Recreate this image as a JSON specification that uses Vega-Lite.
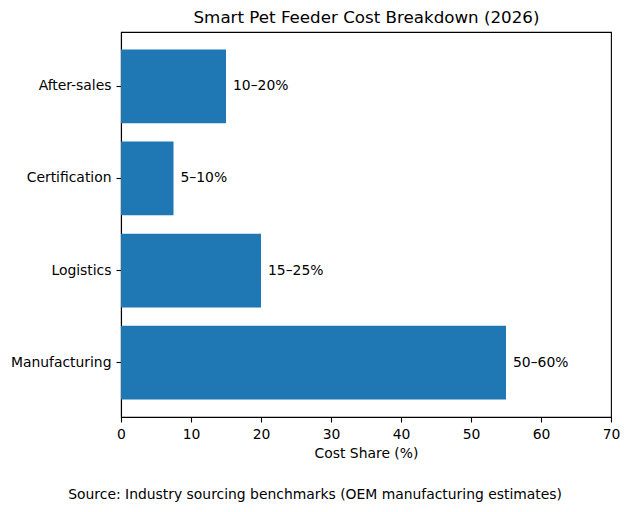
{
  "$schema": "https://vega.github.io/schema/vega-lite/v6.json",
  "width": 490,
  "height": 385,
  "autosize": "none",
  "padding": {"left": 121, "top": 32, "right": 19, "bottom": 95},
  "background": "white",
  "title": {
    "text": "Source: Industry sourcing benchmarks (OEM manufacturing estimates)",
    "orient": "bottom",
    "frame": "bounds",
    "anchor": "middle",
    "font": "DejaVu Sans",
    "fontSize": 13.9,
    "fontWeight": "normal",
    "color": "black",
    "offset": 27
  },
  "data": {
    "values": [
      {"category": "Manufacturing", "share": 55, "label": "50–60%"},
      {"category": "Logistics", "share": 20, "label": "15–25%"},
      {"category": "Certification", "share": 7.5, "label": "5–10%"},
      {"category": "After-sales", "share": 15, "label": "10–20%"}
    ]
  },
  "encoding": {
    "y": {
      "field": "category",
      "type": "nominal",
      "sort": ["After-sales", "Certification", "Logistics", "Manufacturing"],
      "scale": {"paddingInner": 0.2, "paddingOuter": 0.19},
      "axis": {"labelPadding": 5, "tickSize": 5},
      "title": null
    }
  },
  "layer": [
    {
      "mark": {"type": "bar", "color": "#1f77b4"},
      "encoding": {
        "x": {
          "field": "share",
          "type": "quantitative",
          "scale": {"domain": [0, 70], "nice": false},
          "axis": {
            "values": [0, 10, 20, 30, 40, 50, 60, 70],
            "labelFlush": false,
            "tickSize": 5,
            "labelPadding": 5,
            "titlePadding": 6,
            "title": "Cost Share (%)"
          }
        }
      }
    },
    {
      "mark": {
        "type": "text",
        "align": "left",
        "baseline": "middle",
        "dx": 7,
        "font": "DejaVu Sans",
        "fontSize": 13.9,
        "color": "black"
      },
      "encoding": {
        "x": {
          "field": "share",
          "type": "quantitative",
          "axis": {
            "orient": "top",
            "labels": false,
            "ticks": false,
            "domain": false,
            "grid": false,
            "titlePadding": 6,
            "titleFontSize": 16.7,
            "title": "Smart Pet Feeder Cost Breakdown (2026)"
          }
        },
        "text": {"field": "label"}
      }
    }
  ],
  "resolve": {"axis": {"x": "independent"}},
  "config": {
    "view": {"stroke": "black", "strokeWidth": 1.1},
    "axis": {
      "grid": false,
      "domainColor": "black",
      "domainWidth": 1.1,
      "tickColor": "black",
      "tickWidth": 1.1,
      "labelColor": "black",
      "labelFont": "DejaVu Sans",
      "labelFontSize": 13.9,
      "titleColor": "black",
      "titleFont": "DejaVu Sans",
      "titleFontSize": 13.9,
      "titleFontWeight": "normal"
    }
  }
}
